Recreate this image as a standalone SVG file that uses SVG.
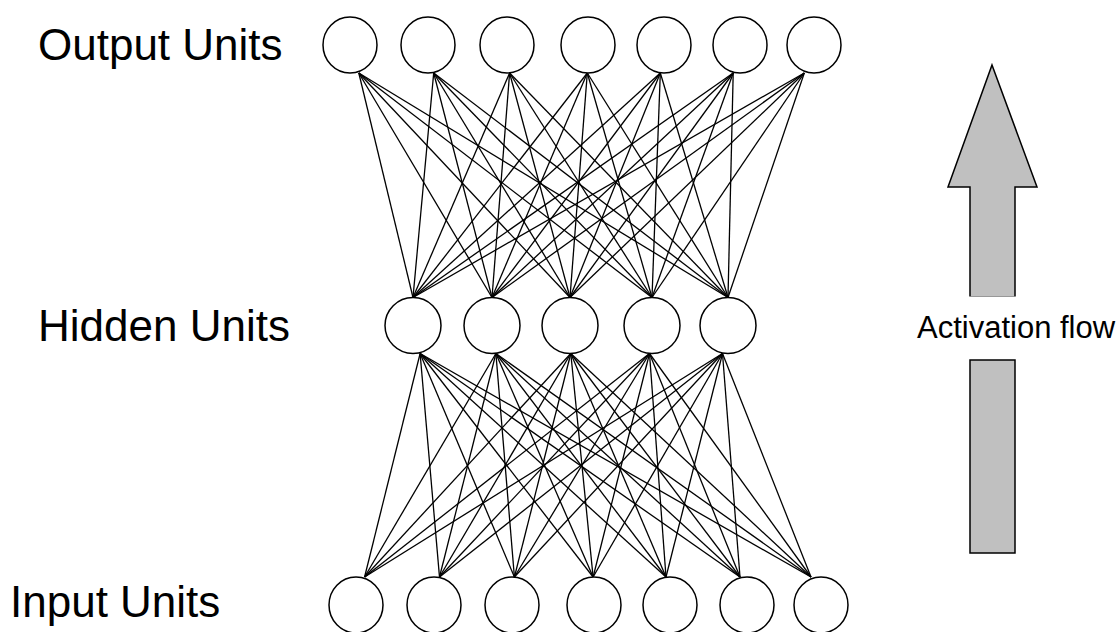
<svg xmlns="http://www.w3.org/2000/svg" width="1118" height="632" viewBox="0 0 1118 632">
<style>
.n{fill:#fff;stroke:#000;stroke-width:1.5}
.c line{stroke:#000;stroke-width:1.3}
.lbl{font-family:"Liberation Sans",Arial,sans-serif;font-size:44px;fill:#000}
.af{font-family:"Liberation Sans",Arial,sans-serif;font-size:31px;fill:#000}
.ar{fill:#c0c0c0;stroke:#000;stroke-width:1.5}
</style>
<rect width="1118" height="632" fill="#fff"/>
<g id="connectors" class="c">
<line x1="358.8" y1="73" x2="413" y2="297.5"/><line x1="358.8" y1="73" x2="492" y2="297.5"/><line x1="358.8" y1="73" x2="570" y2="297.5"/><line x1="358.8" y1="73" x2="652" y2="297.5"/><line x1="358.8" y1="73" x2="728" y2="297.5"/>
<line x1="433.7" y1="73" x2="413" y2="297.5"/><line x1="433.7" y1="73" x2="492" y2="297.5"/><line x1="433.7" y1="73" x2="570" y2="297.5"/><line x1="433.7" y1="73" x2="652" y2="297.5"/><line x1="433.7" y1="73" x2="728" y2="297.5"/>
<line x1="509.6" y1="73" x2="413" y2="297.5"/><line x1="509.6" y1="73" x2="492" y2="297.5"/><line x1="509.6" y1="73" x2="570" y2="297.5"/><line x1="509.6" y1="73" x2="652" y2="297.5"/><line x1="509.6" y1="73" x2="728" y2="297.5"/>
<line x1="587.3" y1="73" x2="413" y2="297.5"/><line x1="587.3" y1="73" x2="492" y2="297.5"/><line x1="587.3" y1="73" x2="570" y2="297.5"/><line x1="587.3" y1="73" x2="652" y2="297.5"/><line x1="587.3" y1="73" x2="728" y2="297.5"/>
<line x1="660.3" y1="73" x2="413" y2="297.5"/><line x1="660.3" y1="73" x2="492" y2="297.5"/><line x1="660.3" y1="73" x2="570" y2="297.5"/><line x1="660.3" y1="73" x2="652" y2="297.5"/><line x1="660.3" y1="73" x2="728" y2="297.5"/>
<line x1="733.2" y1="73" x2="413" y2="297.5"/><line x1="733.2" y1="73" x2="492" y2="297.5"/><line x1="733.2" y1="73" x2="570" y2="297.5"/><line x1="733.2" y1="73" x2="652" y2="297.5"/><line x1="733.2" y1="73" x2="728" y2="297.5"/>
<line x1="804.3" y1="73" x2="413" y2="297.5"/><line x1="804.3" y1="73" x2="492" y2="297.5"/><line x1="804.3" y1="73" x2="570" y2="297.5"/><line x1="804.3" y1="73" x2="652" y2="297.5"/><line x1="804.3" y1="73" x2="728" y2="297.5"/>
<line x1="420.1" y1="353.5" x2="364.6" y2="577"/><line x1="420.1" y1="353.5" x2="439.5" y2="577"/><line x1="420.1" y1="353.5" x2="514.4" y2="577"/><line x1="420.1" y1="353.5" x2="593.1" y2="577"/><line x1="420.1" y1="353.5" x2="666" y2="577"/><line x1="420.1" y1="353.5" x2="740" y2="577"/><line x1="420.1" y1="353.5" x2="811" y2="577"/>
<line x1="495.9" y1="353.5" x2="364.6" y2="577"/><line x1="495.9" y1="353.5" x2="439.5" y2="577"/><line x1="495.9" y1="353.5" x2="514.4" y2="577"/><line x1="495.9" y1="353.5" x2="593.1" y2="577"/><line x1="495.9" y1="353.5" x2="666" y2="577"/><line x1="495.9" y1="353.5" x2="740" y2="577"/><line x1="495.9" y1="353.5" x2="811" y2="577"/>
<line x1="570.8" y1="353.5" x2="364.6" y2="577"/><line x1="570.8" y1="353.5" x2="439.5" y2="577"/><line x1="570.8" y1="353.5" x2="514.4" y2="577"/><line x1="570.8" y1="353.5" x2="593.1" y2="577"/><line x1="570.8" y1="353.5" x2="666" y2="577"/><line x1="570.8" y1="353.5" x2="740" y2="577"/><line x1="570.8" y1="353.5" x2="811" y2="577"/>
<line x1="649.5" y1="353.5" x2="364.6" y2="577"/><line x1="649.5" y1="353.5" x2="439.5" y2="577"/><line x1="649.5" y1="353.5" x2="514.4" y2="577"/><line x1="649.5" y1="353.5" x2="593.1" y2="577"/><line x1="649.5" y1="353.5" x2="666" y2="577"/><line x1="649.5" y1="353.5" x2="740" y2="577"/><line x1="649.5" y1="353.5" x2="811" y2="577"/>
<line x1="722.5" y1="353.5" x2="364.6" y2="577"/><line x1="722.5" y1="353.5" x2="439.5" y2="577"/><line x1="722.5" y1="353.5" x2="514.4" y2="577"/><line x1="722.5" y1="353.5" x2="593.1" y2="577"/><line x1="722.5" y1="353.5" x2="666" y2="577"/><line x1="722.5" y1="353.5" x2="740" y2="577"/><line x1="722.5" y1="353.5" x2="811" y2="577"/>
</g>
<g id="output-units">
<ellipse id="o1" class="n" cx="350" cy="45" rx="27" ry="28"/>
<ellipse id="o2" class="n" cx="428" cy="45" rx="27" ry="28"/>
<ellipse id="o3" class="n" cx="507" cy="45" rx="27" ry="28"/>
<ellipse id="o4" class="n" cx="588" cy="45" rx="27" ry="28"/>
<ellipse id="o5" class="n" cx="664" cy="45" rx="27" ry="28"/>
<ellipse id="o6" class="n" cx="740" cy="45" rx="27" ry="28"/>
<ellipse id="o7" class="n" cx="814" cy="45" rx="27" ry="28"/>
</g>
<g id="hidden-units">
<ellipse id="h1" class="n" cx="413" cy="325.5" rx="28" ry="28"/>
<ellipse id="h2" class="n" cx="492" cy="325.5" rx="28" ry="28"/>
<ellipse id="h3" class="n" cx="570" cy="325.5" rx="28" ry="28"/>
<ellipse id="h4" class="n" cx="652" cy="325.5" rx="28" ry="28"/>
<ellipse id="h5" class="n" cx="728" cy="325.5" rx="28" ry="28"/>
</g>
<g id="input-units">
<ellipse id="i1" class="n" cx="356" cy="605" rx="27" ry="28"/>
<ellipse id="i2" class="n" cx="434" cy="605" rx="27" ry="28"/>
<ellipse id="i3" class="n" cx="512" cy="605" rx="27" ry="28"/>
<ellipse id="i4" class="n" cx="594" cy="605" rx="27" ry="28"/>
<ellipse id="i5" class="n" cx="670" cy="605" rx="27" ry="28"/>
<ellipse id="i6" class="n" cx="747" cy="605" rx="27" ry="28"/>
<ellipse id="i7" class="n" cx="821" cy="605" rx="27" ry="28"/>
</g>
<g id="labels">
<text class="lbl" x="38" y="60">Output Units</text>
<text class="lbl" x="38" y="341">Hidden Units</text>
<text class="lbl" x="10" y="617">Input Units</text>
</g>
<g id="activation-flow">
<polygon class="ar" points="992,65 1037,187 1015,187 1015,297 970,297 970,187 948,187"/>
<polygon class="ar" points="970,360 1015,360 1015,553 970,553"/>
<rect x="965" y="296.5" width="55" height="3" fill="#fff"/>
<text class="af" x="917" y="338">Activation flow</text>
</g>
</svg>
